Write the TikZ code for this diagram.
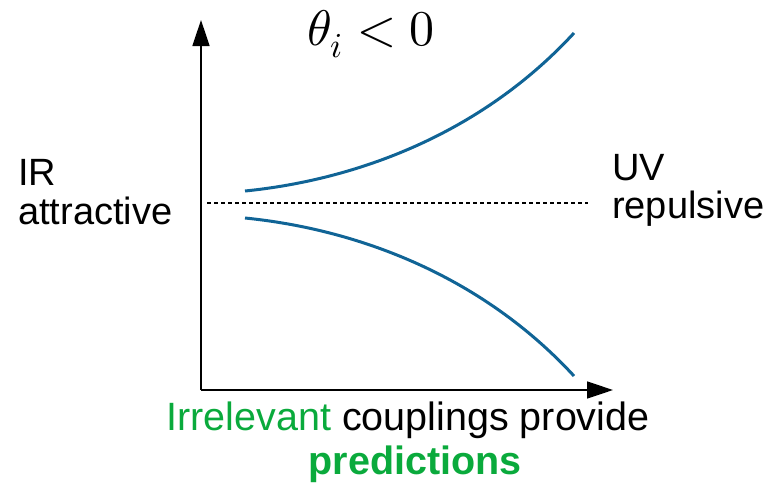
\documentclass[tikz,border=0pt]{standalone}
\usepackage{fontspec}
\usepackage{unicode-math}
\setmainfont{Liberation Sans}
\setmathfont{Latin Modern Math}
\usetikzlibrary{arrows.meta}
\definecolor{curveblue}{RGB}{16,100,150}
\definecolor{predgreen}{RGB}{10,170,60}
\tikzset{
  axisline/.style={line width=1.5pt,-{Triangle[length=26pt,width=17pt]}},
  flowcurve/.style={line width=3pt,curveblue},
  fixedline/.style={line width=1.5pt,dash pattern=on 4pt off 3pt},
  lbl/.style={inner sep=0pt,font=\fontsize{38}{44}\selectfont},
  botlbl/.style={inner sep=0pt,font=\fontsize{39.5}{46}\selectfont},
}
\begin{document}
\begin{tikzpicture}[x=1pt,y=-1pt]
\useasboundingbox (0,0) rectangle (782,485);
\coordinate (O) at (201,390);
\coordinate (ytip) at (201,20);
\coordinate (xtip) at (613,390);
\draw[axisline] (O) -- (ytip);
\draw[axisline] (O) -- (xtip);
\coordinate (dl) at (207,203);
\coordinate (dr) at (588,203);
\draw[fixedline] (dl) -- (dr);
\coordinate (u0) at (245,191);
\coordinate (u1) at (574,33);
\coordinate (l0) at (245,218);
\coordinate (l1) at (574,376);
\draw[flowcurve] (u0) .. controls (355,180) and (480,135) .. (u1);
\draw[flowcurve] (l0) .. controls (355,229) and (480,274) .. (l1);
\node[inner sep=0pt,anchor=base] (title) at (371,45) {\fontsize{50}{60}\selectfont$\theta_i<0$};
\node[lbl,anchor=base west] (ir1) at (18,185) {IR};
\node[lbl,anchor=base west] (ir2) at (18,224) {attractive};
\node[lbl,anchor=base west] (uv1) at (612,180) {UV};
\node[lbl,anchor=base west] (uv2) at (612,218) {repulsive};
\node[botlbl,anchor=base] (bot1) at (408,430) {\textcolor{predgreen}{Irrelevant} couplings provide};
\node[botlbl,anchor=base,text=predgreen] (bot2) at (415,474) {\bfseries predictions};
\end{tikzpicture}
\end{document}
